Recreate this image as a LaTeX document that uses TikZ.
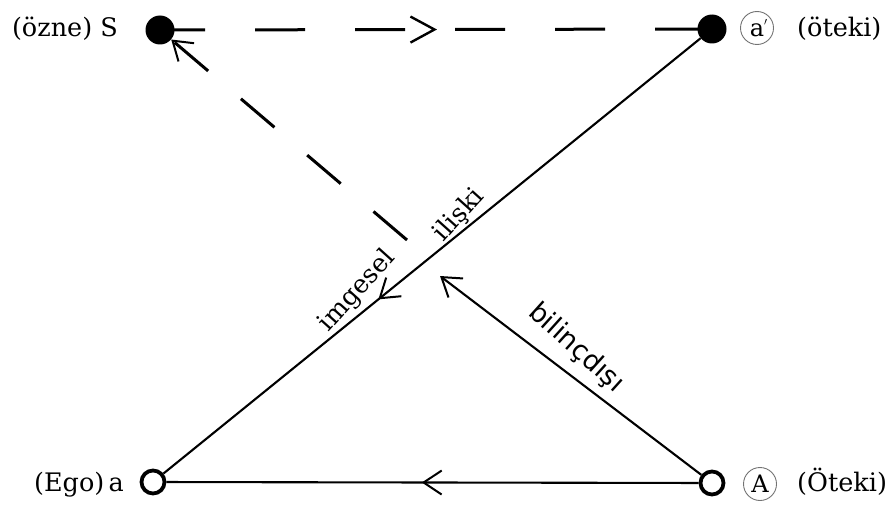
\documentclass[tikz,border=0pt]{standalone}
\usepackage{fontspec}
\setmainfont{DejaVu Serif}
\newfontfamily\labsans{DejaVu Sans}
\usetikzlibrary{arrows.meta,decorations.markings,backgrounds}
\tikzset{
  barb/.tip={Straight Barb[length=18pt,width=24pt,line width=2pt]},
  bigbarb/.tip={Straight Barb[length=24pt,width=26pt,line width=2.4pt]},
  dotf/.style={circle,fill=black,minimum size=29pt,inner sep=0pt},
  doto/.style={circle,draw=black,line width=3.8pt,minimum size=23pt,inner sep=0pt},
  lab/.style={font=\fontsize{25.5}{28}\selectfont,inner sep=0pt},
  circl/.style={circle,draw=black!55,line width=0.9pt,minimum size=33pt,inner sep=0pt,font=\fontsize{24}{26}\selectfont},
  conn/.style={line width=2.1pt},
  dsh/.style={line width=3pt},
  midarrow/.style={postaction={decorate,decoration={markings,mark=at position #1 with {\arrow{barb}}}}},
}
\begin{document}
\begin{tikzpicture}[x=1pt,y=-1pt]
\useasboundingbox (0,0) rectangle (894,511);
% points
\node[dotf] (S) at (160,30) {};
\node[dotf] (ap) at (712,29) {};
\node[doto] (a) at (153,482) {};
\node[doto] (A) at (712,483) {};
\coordinate (tipA) at (440,276);
\coordinate (dstart) at (407,240);
% labels
\node[lab,anchor=base east] (lS) at (118,37) {(özne) S};
\node[circl] (cap) at (757,28) {a\rlap{\raisebox{4pt}{\fontsize{16}{16}\selectfont$'$}}};
\node[lab,anchor=base west] (loteki) at (797,37) {(öteki)};
\node[lab,anchor=base east] (la) at (124,491) {(Ego)\,a};
\node[circl] (cA) at (760,484) {A};
\node[lab,anchor=base west] (lA) at (797,491) {(Öteki)};
\node[lab,rotate=48] (limg) at (357,291) {imgesel};
\node[lab,rotate=48] (lili) at (459,215) {ilişki};
\node[font=\labsans\fontsize{27}{30}\selectfont,inner sep=0pt,rotate=-42] (lbil) at (576,348) {bilinçdışı};
% connectors
\begin{pgfonlayer}{background}
\draw[dsh,dash pattern=on 50pt off 50pt,dash phase=5pt,
  postaction={decorate,decoration={markings,mark=at position 0.5018 with {\arrow{bigbarb}}}}]
  (S.center) -- (ap.center);
\end{pgfonlayer}
\draw[dsh,dash pattern=on 44pt off 43pt,-{barb}] (dstart) -- (S);
\draw[conn,-{barb}] (A) -- (tipA);
\draw[conn,midarrow=0.6] (ap) -- (a);
\draw[conn,midarrow=0.52] (A) -- (a);
\end{tikzpicture}
\end{document}
